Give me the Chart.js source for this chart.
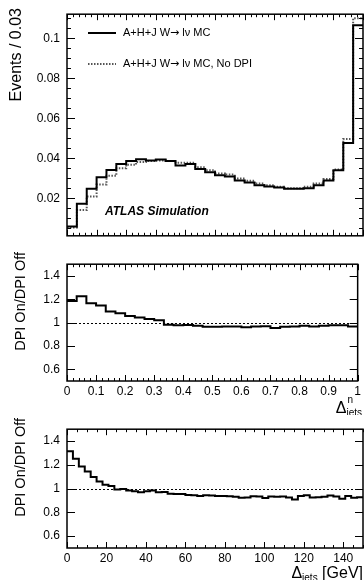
<!DOCTYPE html>
<html>
<head>
<meta charset="utf-8">
<script src="https://cdn.jsdelivr.net/npm/chart.js@4.4.1/dist/chart.umd.min.js"></script>
<style>
    body { margin: 0; background: #fff; }
    #wrap { position: relative; width: 364px; height: 580px; }
    canvas { position: absolute; left: 0; }
</style>
</head>
<body>
<div id="wrap">
    <canvas id="dist" width="364" height="250" style="top:0px"></canvas>
    <canvas id="ratio-n" width="364" height="165" style="top:250px"></canvas>
    <canvas id="ratio-gev" width="364" height="165" style="top:415px"></canvas>
</div>
<script>
const FONT = '"Liberation Sans", Arial, Helvetica, sans-serif';

// normalised Delta_jets^n : 30 bins on [0, 1]
const dnRange = [0, 1];
const dnOn = [0.0059, 0.0172, 0.0247, 0.0305, 0.0341, 0.0371, 0.0386, 0.0395, 0.0389, 0.0394,
              0.0386, 0.0364, 0.0371, 0.0346, 0.0330, 0.0315, 0.0309, 0.0288, 0.0279, 0.0265,
              0.0259, 0.0253, 0.0247, 0.0247, 0.0250, 0.0265, 0.0288, 0.0340, 0.0476, 0.1065];
const dnOff = [0.0054, 0.0141, 0.0209, 0.0268, 0.0312, 0.0350, 0.0367, 0.0381, 0.0386, 0.0389,
               0.0386, 0.0377, 0.0377, 0.0355, 0.0340, 0.0324, 0.0318, 0.0299, 0.0287, 0.0273,
               0.0265, 0.0257, 0.0250, 0.0250, 0.0257, 0.0273, 0.0296, 0.0343, 0.0496, 0.1100];
const dnRatio = [1.184, 1.225, 1.166, 1.147, 1.096, 1.080, 1.057, 1.044, 1.031, 1.020,
                 0.982, 0.977, 0.979, 0.972, 0.964, 0.964, 0.966, 0.966, 0.961, 0.966,
                 0.969, 0.953, 0.964, 0.966, 0.972, 0.966, 0.972, 0.977, 0.977, 0.966];

// Delta_jets in GeV : 50 bins of 3 GeV on [0, 150]
const gevRange = [0, 150];
const gevRatio = [1.315, 1.251, 1.185, 1.144, 1.097, 1.059, 1.033, 1.021, 0.992, 0.997,
                  0.985, 0.977, 0.969, 0.977, 0.985, 0.969, 0.972, 0.956, 0.954, 0.954,
                  0.946, 0.944, 0.938, 0.944, 0.941, 0.938, 0.938, 0.936, 0.931, 0.923,
                  0.926, 0.936, 0.933, 0.921, 0.933, 0.931, 0.933, 0.926, 0.908, 0.938,
                  0.944, 0.926, 0.928, 0.931, 0.941, 0.933, 0.915, 0.938, 0.923, 0.928];

const distYTicks = [0.02, 0.04, 0.06, 0.08, 0.1];
const ratioYTicks = [0.6, 0.8, 1, 1.2, 1.4];
const dnXTicks = [0, 0.1, 0.2, 0.3, 0.4, 0.5, 0.6, 0.7, 0.8, 0.9, 1];
const gevXTicks = [0, 20, 40, 60, 80, 100, 120, 140];

const legendLabels = ['A+H+J W\u2192 l\u03BD MC', 'A+H+J W\u2192 l\u03BD MC, No DPI'];

// turn bin contents into step points (left edge of each bin + closing point)
function histPoints(values, range) {
    const w = (range[1] - range[0]) / values.length;
    const pts = values.map((v, i) => ({ x: range[0] + i * w, y: v }));
    pts.push({ x: range[1], y: values[values.length - 1] });
    return pts;
}

function fixedTicks(list) {
    return scale => { scale.ticks = list.map(v => ({ value: v })); };
}

// ROOT style frame with inward ticks on all four sides
const rootFrame = {
    id: 'rootFrame',
    beforeDatasetsDraw(chart, args, opts) {
        if (opts.refLine == null) return;
        const { ctx, chartArea: a } = chart;
        const py = Math.round(chart.scales.y.getPixelForValue(opts.refLine)) + 0.5;
        ctx.save();
        ctx.strokeStyle = '#000';
        ctx.lineWidth = 1;
        ctx.setLineDash([2, 2]);
        ctx.beginPath();
        ctx.moveTo(a.left, py);
        ctx.lineTo(a.right, py);
        ctx.stroke();
        ctx.restore();
    },
    afterDraw(chart, args, opts) {
        const { ctx, chartArea: a, scales: { x, y } } = chart;
        ctx.save();
        ctx.strokeStyle = '#000';
        ctx.lineWidth = 1;
        ctx.beginPath();
        let k0 = Math.ceil(x.min / opts.xMinor - 1e-6), k1 = Math.floor(x.max / opts.xMinor + 1e-6);
        for (let k = k0; k <= k1; k++) {
            const px = Math.round(x.getPixelForValue(k * opts.xMinor)) + 0.5;
            const len = k % opts.xPer === 0 ? 6 : 3;
            ctx.moveTo(px, a.bottom); ctx.lineTo(px, a.bottom - len);
            ctx.moveTo(px, a.top); ctx.lineTo(px, a.top + len);
        }
        k0 = Math.ceil(y.min / opts.yMinor - 1e-6); k1 = Math.floor(y.max / opts.yMinor + 1e-6);
        for (let k = k0; k <= k1; k++) {
            const py = Math.round(y.getPixelForValue(k * opts.yMinor)) + 0.5;
            const len = k % opts.yPer === 0 ? 8 : 4;
            ctx.moveTo(a.left, py); ctx.lineTo(a.left + len, py);
            ctx.moveTo(a.right, py); ctx.lineTo(a.right - len, py);
        }
        ctx.stroke();
        ctx.lineWidth = 1.5;
        ctx.strokeRect(a.left, a.top, a.right - a.left, a.bottom - a.top);
        ctx.restore();
    }
};

function yTitle(ctx, text, x, yEnd, size) {
    ctx.save();
    ctx.translate(x, yEnd);
    ctx.rotate(-Math.PI / 2);
    ctx.font = size + 'px ' + FONT;
    ctx.textAlign = 'right';
    ctx.textBaseline = 'alphabetic';
    ctx.fillStyle = '#000';
    ctx.fillText(text, 0, 0);
    ctx.restore();
}

// legend text with the arrow taken from DejaVu (wider glyph, like the original)
function legendText(ctx, text, x, y) {
    const parts = text.split('\u2192');
    ctx.font = '11px ' + FONT;
    ctx.fillText(parts[0], x, y);
    x += ctx.measureText(parts[0]).width;
    ctx.font = '11px "DejaVu Sans", sans-serif';
    ctx.fillText('\u2192', x, y);
    x += ctx.measureText('\u2192').width;
    ctx.font = '11px ' + FONT;
    ctx.fillText(parts[1], x, y);
}

function baseOptions(yMin, yMax, yTicks, xRange, xTicks, pad, xHeight, frame) {
    return {
        responsive: false,
        animation: false,
        devicePixelRatio: 1,
        layout: { padding: pad },
        plugins: { legend: { display: false }, tooltip: { enabled: false }, rootFrame: frame },
        elements: { point: { radius: 0 }, line: { tension: 0 } },
        scales: {
            x: {
                type: 'linear',
                min: xRange[0],
                max: xRange[1],
                grid: { display: false, drawTicks: false },
                border: { display: false },
                afterBuildTicks: fixedTicks(xTicks),
                afterFit: s => { s.height = xHeight; },
                ticks: {
                    display: xHeight > 0,
                    autoSkip: false,
                    maxRotation: 0,
                    padding: 3,
                    color: '#000',
                    font: { family: FONT, size: 12 },
                    callback: v => String(v)
                }
            },
            y: {
                min: yMin,
                max: yMax,
                grid: { display: false, drawTicks: false },
                border: { display: false },
                afterBuildTicks: fixedTicks(yTicks),
                afterFit: s => { s.width = 67; },
                ticks: {
                    padding: 7,
                    color: '#000',
                    font: { family: FONT, size: 12 },
                    callback: v => String(v)
                }
            }
        }
    };
}

const distDecor = {
    id: 'distDecor',
    afterDraw(chart) {
        const ctx = chart.ctx;
        ctx.save();
        chart.data.datasets.forEach((ds, i) => {
            const y = 33 + i * 31;
            ctx.strokeStyle = ds.borderColor;
            ctx.lineWidth = ds.borderWidth;
            ctx.setLineDash(ds.borderDash || []);
            ctx.beginPath();
            ctx.moveTo(88, y);
            ctx.lineTo(116, y);
            ctx.stroke();
            ctx.setLineDash([]);
            ctx.fillStyle = '#000';
            ctx.textBaseline = 'middle';
            legendText(ctx, ds.label, 123, y);
        });
        ctx.font = 'italic bold 12px ' + FONT;
        ctx.textBaseline = 'alphabetic';
        ctx.fillText('ATLAS Simulation', 105, 215);
        ctx.restore();
        yTitle(ctx, 'Events / 0.03', 21, 8, 16);
    }
};

const ratioNDecor = {
    id: 'ratioNDecor',
    afterDraw(chart) {
        const ctx = chart.ctx;
        yTitle(ctx, 'DPI On/DPI Off', 25, 2, 14.5);
        ctx.save();
        ctx.fillStyle = '#000';
        ctx.textBaseline = 'alphabetic';
        ctx.font = '10px ' + FONT;
        const wSub = ctx.measureText('jets').width;
        const xs = 362 - wSub;
        ctx.fillText('jets', xs, 166);
        ctx.fillText('n', xs + 1, 153);
        ctx.font = '16px ' + FONT;
        const wD = ctx.measureText('\u0394').width;
        ctx.fillText('\u0394', xs - wD, 163);
        ctx.restore();
    }
};

const ratioGevDecor = {
    id: 'ratioGevDecor',
    afterDraw(chart) {
        const ctx = chart.ctx;
        yTitle(ctx, 'DPI On/DPI Off', 25, 3, 14.5);
        ctx.save();
        ctx.fillStyle = '#000';
        ctx.textBaseline = 'alphabetic';
        ctx.font = '16px ' + FONT;
        const wUnit = ctx.measureText(' [GeV]').width;
        const xu = 363 - wUnit;
        ctx.fillText(' [GeV]', xu, 163);
        ctx.font = '10px ' + FONT;
        const wSub = ctx.measureText('jets').width;
        ctx.fillText('jets', xu - wSub, 166);
        ctx.font = '16px ' + FONT;
        const wD = ctx.measureText('\u0394').width;
        ctx.fillText('\u0394', xu - wSub - wD, 163);
        ctx.restore();
    }
};

function renderDistribution() {
    const ctx = document.getElementById('dist').getContext('2d');
    new Chart(ctx, {
        type: 'line',
        data: {
            datasets: [{
                label: legendLabels[0],
                data: histPoints(dnOn, dnRange),
                borderColor: '#000',
                borderWidth: 2,
                stepped: true
            }, {
                label: legendLabels[1],
                data: histPoints(dnOff, dnRange),
                borderColor: '#555',
                borderWidth: 2,
                borderDash: [1.5, 1.5],
                stepped: true
            }]
        },
        options: baseOptions(0.0012, 0.112, distYTicks, dnRange, dnXTicks,
            { top: 8, right: 1, bottom: 6, left: 0 }, 0,
            { xMinor: 0.02, xPer: 5, yMinor: 0.005, yPer: 4 }),
        plugins: [rootFrame, distDecor]
    });
}

function renderRatio(id, values, range, xTicks, pad, xHeight, frame, decor) {
    const ctx = document.getElementById(id).getContext('2d');
    new Chart(ctx, {
        type: 'line',
        data: {
            datasets: [{
                label: 'DPI On/DPI Off',
                data: histPoints(values, range),
                borderColor: '#000',
                borderWidth: 2,
                stepped: true
            }]
        },
        options: baseOptions(0.5, 1.5, ratioYTicks, range, xTicks, pad, xHeight, frame),
        plugins: [rootFrame, decor]
    });
}

renderDistribution();
renderRatio('ratio-n', dnRatio, dnRange, dnXTicks, { top: 1, right: 1, bottom: 0, left: 0 }, 34,
    { xMinor: 0.02, xPer: 5, yMinor: 0.2, yPer: 1, refLine: 1 }, ratioNDecor);
renderRatio('ratio-gev', gevRatio, gevRange, gevXTicks, { top: 3, right: 1, bottom: 0, left: 0 }, 32,
    { xMinor: 5, xPer: 4, yMinor: 0.2, yPer: 1, refLine: 1 }, ratioGevDecor);
</script>
</body>
</html>
